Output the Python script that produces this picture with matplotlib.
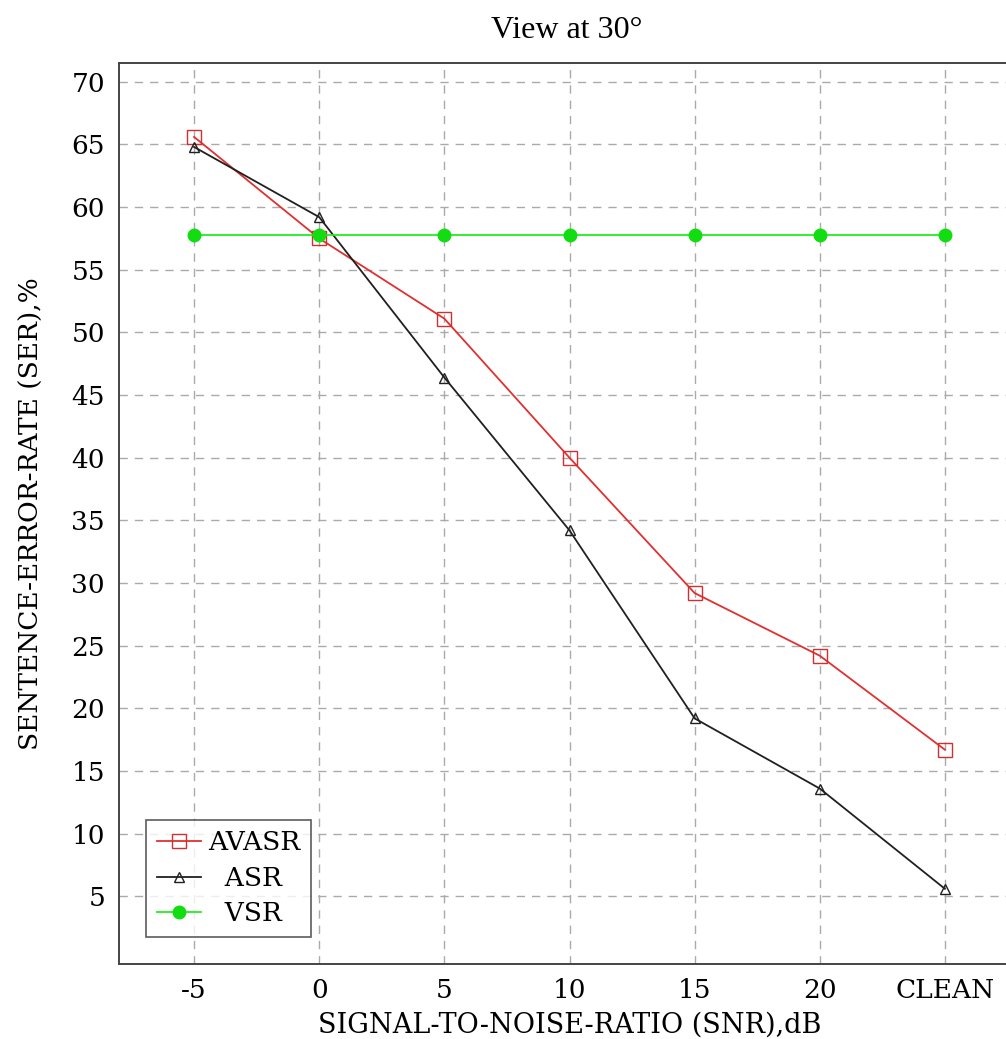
import numpy as np
import matplotlib
matplotlib.use("Agg")
import matplotlib.pyplot as plt

# SNR positions (CLEAN placed at 25)
snr_pos = [-5, 0, 5, 10, 15, 20, 25]
snr_labels = ["-5", "0", "5", "10", "15", "20", "CLEAN"]

avasr = [65.6, 57.5, 51.1, 40.0, 29.2, 24.2, 16.7]
asr = [64.8, 59.2, 46.4, 34.2, 19.2, 13.6, 5.6]
vsr = [57.8, 57.8, 57.8, 57.8, 57.8, 57.8, 57.8]

y_ticks = [5, 10, 15, 20, 25, 30, 35, 40, 45, 50, 55, 60, 65, 70]

plt.rcParams['font.family'] = 'serif'
plt.rcParams['font.serif'] = ['DejaVu Serif']

fig = plt.figure(figsize=(10.06, 10.39), dpi=100)
ax = fig.add_axes([119 / 1006, 75 / 1039, 901 / 1006, 901 / 1039])

ax.plot(snr_pos, avasr, color='#e03030', lw=1.3, marker='s', markersize=10,
        markerfacecolor='none', markeredgecolor='#d03030', markeredgewidth=1.0,
        label='AVASR', zorder=3)
ax.plot(snr_pos, asr, color='#202020', lw=1.3, marker='^', markersize=7,
        markerfacecolor='none', markeredgecolor='#202020', markeredgewidth=1.0,
        label='  ASR', zorder=3)
ax.plot(snr_pos, vsr, color='#22ee22', lw=1.3, marker='o', markersize=9,
        markerfacecolor='#11dd11', markeredgecolor='#11dd11',
        label='  VSR', zorder=3)

ax.set_xlim(-8, 28)
ax.set_ylim(-0.4, 71.5)
ax.set_xticks(snr_pos)
ax.set_xticklabels(snr_labels)
ax.set_yticks(y_ticks)
ax.tick_params(labelsize=19, direction='in', length=0, pad=10)
ax.grid(True, linestyle=(0, (6, 5)), color='#aaaaaa', lw=1.0)
for s in ax.spines.values():
    s.set_color('#444444')
    s.set_linewidth(1.4)

ax.set_xlabel('SIGNAL-TO-NOISE-RATIO (SNR),dB', fontsize=19.5, labelpad=6)
ax.set_ylabel('SENTENCE-ERROR-RATE (SER),%', fontsize=19)
ax.yaxis.set_label_coords(-0.083, 0.5)
fig.text(567 / 1006, 1 - 30 / 1039, 'View at 30°', fontsize=23,
         family='Liberation Serif', ha='center', va='center')

leg = ax.legend(loc='lower left', bbox_to_anchor=(27 / 901, 27 / 901),
                fontsize=19, frameon=True, fancybox=False, edgecolor='#333333',
                handlelength=1.7, borderpad=0.4, labelspacing=0.4,
                handletextpad=0.25, borderaxespad=0)
leg.get_frame().set_linewidth(1.2)

fig.savefig('out.png', dpi=100)
